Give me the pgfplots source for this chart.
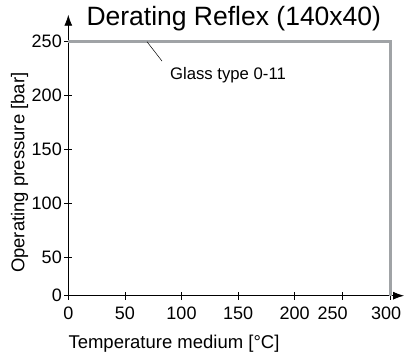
\documentclass[border=0pt]{standalone}
\usepackage{fontspec}
\setmainfont{Liberation Sans}
\usepackage{pgfplots}
\pgfplotsset{compat=1.18}
\usetikzlibrary{arrows.meta}

\definecolor{lineGray}{RGB}{160,163,166}

\begin{document}
\begin{tikzpicture}
\useasboundingbox (-68.3pt,-60.3pt) rectangle (337.7pt,295.7pt);
\begin{axis}[
  at={(0,0)}, anchor=origin,
  x=1.132pt, y=1.0786pt,
  % the original scale is squeezed above 200 degC and below 50 bar
  x coord trafo/.code={\pgfmathparse{#1<=200 ? #1 : 200+0.848*(#1-200)}},
  x coord inv trafo/.code={\pgfmathparse{#1<=200 ? #1 : 200+(#1-200)/0.848}},
  y coord trafo/.code={\pgfmathparse{#1<=50 ? 0.71*#1 : #1-14.5}},
  y coord inv trafo/.code={\pgfmathparse{#1<=35.5 ? #1/0.71 : #1+14.5}},
  xmin=0, xmax=313.9,
  ymin=0, ymax=275,
  axis lines=left,
  axis line style={-{Latex[length=11pt,width=8pt]}, line width=0.8pt},
  tick align=center,
  major tick length=8pt,
  tick style={black, line width=0.8pt},
  xtick={0,50,100,150,200,250,300},
  xticklabels={0,50,100,{\raisebox{-4pt}{150}},200,\hspace*{-20pt}250,\hspace*{-9pt}300},
  ytick={0,50,100,150,200,250},
  /pgf/number format/assume math mode=true,
  tick label style={font=\fontsize{18}{18}\selectfont},
  xticklabel style={yshift=-4pt},
  yticklabel style={xshift=1pt},
  xlabel={Temperature medium [°C]},
  xlabel style={at={(axis description cs:0,0)}, anchor=base west, inner sep=0,
    yshift=-52.6pt, font=\fontsize{18.5}{18.5}\selectfont},
  ylabel={Operating pressure [bar]},
  ylabel style={at={([xshift=-40pt]axis description cs:0,0.4377)}, anchor=south,
    inner sep=0, font=\fontsize{18.5}{18.5}\selectfont},
  title={Derating Reflex (140x40)},
  title style={at={(axis description cs:0,0)}, anchor=base west, inner sep=0,
    xshift=18pt, yshift=264pt, font=\fontsize{26.5}{26.5}\selectfont},
  clip=false,
]
\addplot[color=lineGray, line width=2.5pt] coordinates {
  (0,250)(300,250)(300,0)
};
\draw[black, line width=0.5pt] (axis cs:69.5,250) -- (axis cs:82.8,232);
\node[anchor=base west, inner sep=0, font=\fontsize{16.7}{16.7}\selectfont]
  at (axis cs:89.8,214.5) {Glass type 0-11};
\end{axis}
\end{tikzpicture}
\end{document}
